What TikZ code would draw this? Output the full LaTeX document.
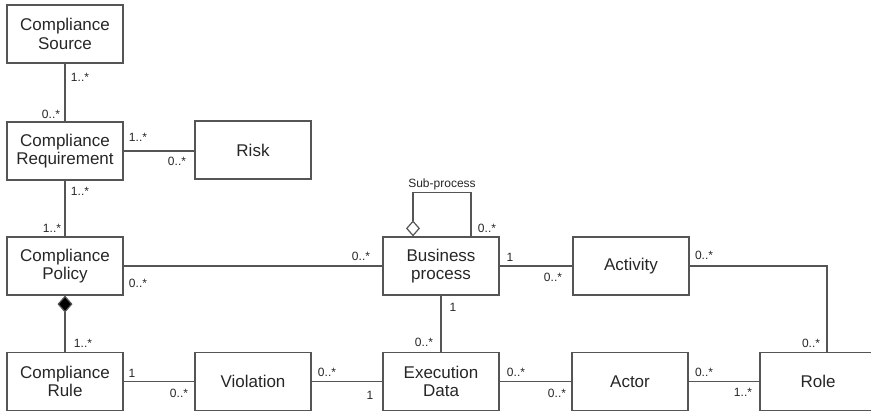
\documentclass[tikz,border=0pt]{standalone}
\usepackage{fontspec}
\setmainfont{Liberation Sans}
\usetikzlibrary{arrows.meta}
\definecolor{ln}{HTML}{555555}
\definecolor{tx}{HTML}{262626}
\begin{document}
\begin{tikzpicture}[x=1pt,y=-1pt,
 cls/.style={draw=ln, line width=1.2pt, minimum width=116pt, minimum height=58pt, inner sep=0pt, align=center, text=tx, font=\fontsize{17}{18.5}\selectfont},
 lnk/.style={draw=ln, line width=1.2pt},
 mult/.style={text=tx, font=\fontsize{12}{12}\selectfont, inner sep=0pt},
 comp/.style={{Diamond[fill=black, width=15pt, length=17pt]}-},
 aggr/.style={{Diamond[open, fill=white, width=14pt, length=16pt]}-}]
\useasboundingbox (0,0) rectangle (871,411);
% classes
\node[cls] (cs)   at (65,34)    {Compliance\\Source};
\node[cls] (creq) at (65,151)   {Compliance\\Requirement};
\node[cls] (risk) at (253,150)  {Risk};
\node[cls] (cp)   at (65,266)   {Compliance\\Policy};
\node[cls] (cr)   at (65,381.5) {Compliance\\Rule};
\node[cls] (viol) at (253,381.5){Violation};
\node[cls] (bp)   at (441,266)  {Business\\process};
\node[cls] (ed)   at (441,381.5){Execution\\Data};
\node[cls] (act)  at (631,266)  {Activity};
\node[cls] (actor) at (630,381.5){Actor};
\node[cls] (role) at (818,381.5){Role};
% connectors
\draw[lnk] (cs) -- (creq);
\draw[lnk] (creq.east) -- (creq.east -| risk.west);
\draw[lnk] (creq) -- (cp);
\draw[lnk] (cp.east) -- (bp.west);
\draw[lnk,comp] (cp.south) -- (cr.north);
\draw[lnk] (cr) -- (viol);
\draw[lnk] (viol) -- (ed);
\draw[lnk] (bp) -- (ed);
\draw[lnk] (bp.east) -- (act.west);
\draw[lnk] (ed) -- (actor);
\draw[lnk] (actor) -- (role);
\draw[lnk] (act.east) -| ([xshift=9pt]role.north);
\draw[lnk,aggr] ([xshift=-28pt]bp.north) -- ++(0,44pt) coordinate (lt) -| ([xshift=30pt]bp.north);
\node[mult] (sub) at (442,184) {Sub-process};
% multiplicities
\node[mult] (m1) at (80,77) {1..*};
\node[mult] (m2) at (51,114) {0..*};
\node[mult] (m3) at (138,137) {1..*};
\node[mult] (m4) at (177,161) {0..*};
\node[mult] (m5) at (80,191) {1..*};
\node[mult] (m6) at (52,228) {1..*};
\node[mult] (m7) at (138,283) {0..*};
\node[mult] (m8) at (361,256) {0..*};
\node[mult] (m9) at (83,343) {1..*};
\node[mult] (m10) at (132,373) {1};
\node[mult] (m11) at (179,393) {0..*};
\node[mult] (m12) at (327,372) {0..*};
\node[mult] (m13) at (370,395) {1};
\node[mult] (m14) at (453,307) {1};
\node[mult] (m15) at (424,342) {0..*};
\node[mult] (m16) at (487,228) {0..*};
\node[mult] (m17) at (510,257) {1};
\node[mult] (m18) at (553,277) {0..*};
\node[mult] (m19) at (704,255) {0..*};
\node[mult] (m20) at (811,343) {0..*};
\node[mult] (m21) at (516,372) {0..*};
\node[mult] (m22) at (557,393) {0..*};
\node[mult] (m23) at (704,372) {0..*};
\node[mult] (m24) at (743,392) {1..*};
\end{tikzpicture}
\end{document}
